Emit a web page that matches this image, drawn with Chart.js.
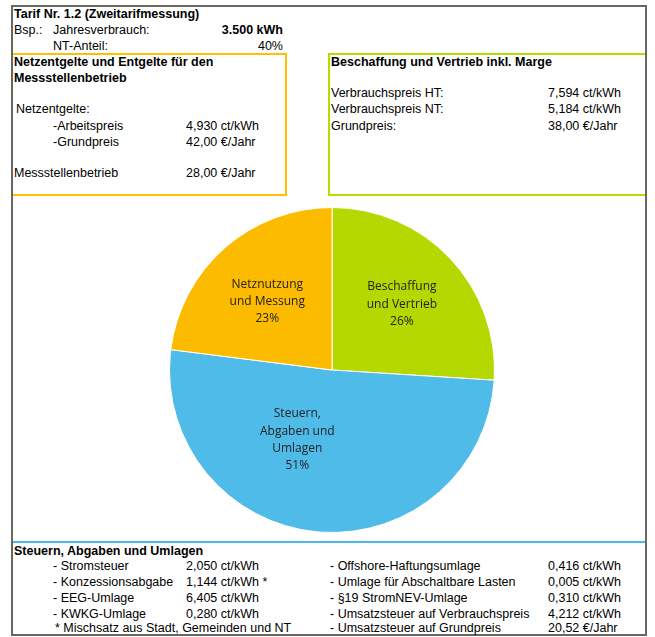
<!DOCTYPE html>
<html lang="de">
<head>
    <meta charset="UTF-8">
    <title>Tarif Nr. 1.2 (Zweitarifmessung)</title>
    <script src="https://cdn.jsdelivr.net/npm/chart.js"></script>
    <style>
        body {
            margin: 0;
            background: #fff;
            font-family: 'Liberation Sans', Arial, sans-serif;
            font-size: 12.5px;
            color: #000;
        }
        .page {
            position: relative;
            width: 655px;
            height: 637px;
        }
        .frame {
            position: absolute;
            left: 11px;
            top: 5px;
            width: 636px;
            height: 631px;
            box-sizing: border-box;
            border: 2px solid #68685f;
        }
        .box-netz {
            position: absolute;
            left: 13px;
            top: 53px;
            width: 274px;
            height: 143px;
            box-sizing: border-box;
            border: 2px solid #ffc000;
            border-left: none;
        }
        .box-besch {
            position: absolute;
            left: 328px;
            top: 53px;
            width: 317px;
            height: 143px;
            box-sizing: border-box;
            border: 2px solid #b6dc00;
            border-right: none;
        }
        .line-steuern {
            position: absolute;
            left: 13px;
            top: 541px;
            width: 632px;
            height: 2px;
            background: #4cb8e6;
        }
        .t {
            position: absolute;
            line-height: 16px;
            white-space: nowrap;
        }
        .b { font-weight: bold; }
        .r { text-align: right; }
        .pie-wrap {
            position: absolute;
            left: 168px;
            top: 206px;
            width: 328px;
            height: 328px;
        }
    </style>
</head>
<body>
<div class="page">
    <div class="frame"></div>
    <div class="box-netz"></div>
    <div class="box-besch"></div>
    <div class="line-steuern"></div>

    <!-- Kopf -->
    <div class="t b" style="left:14px; top:6px;">Tarif Nr. 1.2 (Zweitarifmessung)</div>
    <div class="t" style="left:14px; top:22px;">Bsp.:</div>
    <div class="t" style="left:53px; top:22px;">Jahresverbrauch:</div>
    <div class="t b r" style="left:183px; width:100px; top:22px;">3.500 kWh</div>
    <div class="t" style="left:53px; top:38px;">NT-Anteil:</div>
    <div class="t r" style="left:183px; width:100px; top:38px;">40%</div>

    <!-- Netzentgelte -->
    <div class="t b" style="left:14px; top:54px;">Netzentgelte und Entgelte für den</div>
    <div class="t b" style="left:14px; top:70px;">Messstellenbetrieb</div>
    <div class="t" style="left:16px; top:101px;">Netzentgelte:</div>
    <div class="t" style="left:53px; top:118px;">-Arbeitspreis</div>
    <div class="t" style="left:186px; top:118px;">4,930 ct/kWh</div>
    <div class="t" style="left:53px; top:134px;">-Grundpreis</div>
    <div class="t" style="left:186px; top:134px;">42,00 €/Jahr</div>
    <div class="t" style="left:14px; top:165px;">Messstellenbetrieb</div>
    <div class="t" style="left:186px; top:165px;">28,00 €/Jahr</div>

    <!-- Beschaffung -->
    <div class="t b" style="left:331px; top:54px;">Beschaffung und Vertrieb inkl. Marge</div>
    <div class="t" style="left:331px; top:85px;">Verbrauchspreis HT:</div>
    <div class="t" style="left:548px; top:85px;">7,594 ct/kWh</div>
    <div class="t" style="left:331px; top:101px;">Verbrauchspreis NT:</div>
    <div class="t" style="left:548px; top:101px;">5,184 ct/kWh</div>
    <div class="t" style="left:331px; top:118px;">Grundpreis:</div>
    <div class="t" style="left:548px; top:118px;">38,00 €/Jahr</div>

    <!-- Steuern, Abgaben und Umlagen -->
    <div class="t b" style="left:14px; top:543px;">Steuern, Abgaben und Umlagen</div>
    <div class="t" style="left:53px; top:558px;">- Stromsteuer</div>
    <div class="t" style="left:186px; top:558px;">2,050 ct/kWh</div>
    <div class="t" style="left:53px; top:574px;">- Konzessionsabgabe</div>
    <div class="t" style="left:186px; top:574px;">1,144 ct/kWh *</div>
    <div class="t" style="left:53px; top:590px;">- EEG-Umlage</div>
    <div class="t" style="left:186px; top:590px;">6,405 ct/kWh</div>
    <div class="t" style="left:53px; top:606px;">- KWKG-Umlage</div>
    <div class="t" style="left:186px; top:606px;">0,280 ct/kWh</div>
    <div class="t" style="left:55px; top:620px;">* Mischsatz aus Stadt, Gemeinden und NT</div>

    <div class="t" style="left:330px; top:558px;">- Offshore-Haftungsumlage</div>
    <div class="t" style="left:548px; top:558px;">0,416 ct/kWh</div>
    <div class="t" style="left:330px; top:574px;">- Umlage für Abschaltbare Lasten</div>
    <div class="t" style="left:548px; top:574px;">0,005 ct/kWh</div>
    <div class="t" style="left:330px; top:590px;">- §19 StromNEV-Umlage</div>
    <div class="t" style="left:548px; top:590px;">0,310 ct/kWh</div>
    <div class="t" style="left:330px; top:606px;">- Umsatzsteuer auf Verbrauchspreis</div>
    <div class="t" style="left:548px; top:606px;">4,212 ct/kWh</div>
    <div class="t" style="left:330px; top:620px;">- Umsatzsteuer auf Grundpreis</div>
    <div class="t" style="left:548px; top:620px;">20,52 €/Jahr</div>

    <div class="pie-wrap">
        <canvas id="pieChart"></canvas>
    </div>
</div>

<script>
    // Anteile am Strompreis (im Uhrzeigersinn ab 12 Uhr)
    const categories = [
        ['Beschaffung', 'und Vertrieb'],
        ['Steuern,', 'Abgaben und', 'Umlagen'],
        ['Netznutzung', 'und Messung']
    ];
    const shares = [26, 51, 23];
    const sliceColors = ['#b5d900', '#4fbbe9', '#fdbb00'];

    // Lage der Beschriftung: Anteil vom Radius, Drehung in Grad
    const labelPlacement = [
        { r: 0.59, turn: 0 },
        { r: 0.48, turn: 21 },
        { r: 0.58, turn: -2 }
    ];

    const sliceLabels = {
        id: 'sliceLabels',
        afterDatasetsDraw(chart) {
            const ctx = chart.ctx;
            const meta = chart.getDatasetMeta(0);
            const total = shares.reduce((a, b) => a + b, 0);
            ctx.save();
            ctx.font = '12px "Open Sans", "Noto Sans", sans-serif';
            ctx.fillStyle = '#222';
            ctx.textAlign = 'center';
            ctx.textBaseline = 'middle';
            meta.data.forEach((arc, i) => {
                const p = arc.getProps(['x', 'y', 'startAngle', 'endAngle', 'outerRadius'], true);
                const mid = (p.startAngle + p.endAngle) / 2 + labelPlacement[i].turn * Math.PI / 180;
                const dist = p.outerRadius * labelPlacement[i].r;
                const cx = p.x + Math.cos(mid) * dist;
                const cy = p.y + Math.sin(mid) * dist;
                const lines = categories[i].concat([Math.round(shares[i] / total * 100) + '%']);
                const lh = 17.3;
                const y0 = cy - (lines.length - 1) * lh / 2;
                lines.forEach((txt, k) => ctx.fillText(txt, cx, y0 + k * lh));
            });
            ctx.restore();
        }
    };

    new Chart(document.getElementById('pieChart'), {
        type: 'pie',
        data: {
            labels: categories.map(c => c.join(' ')),
            datasets: [{
                data: shares,
                backgroundColor: sliceColors,
                borderColor: '#ffffff',
                borderWidth: 1
            }]
        },
        options: {
            responsive: true,
            maintainAspectRatio: false,
            animation: false,
            layout: { padding: 1 },
            plugins: {
                legend: { display: false },
                tooltip: { enabled: false }
            }
        },
        plugins: [sliceLabels]
    });
</script>
</body>
</html>
